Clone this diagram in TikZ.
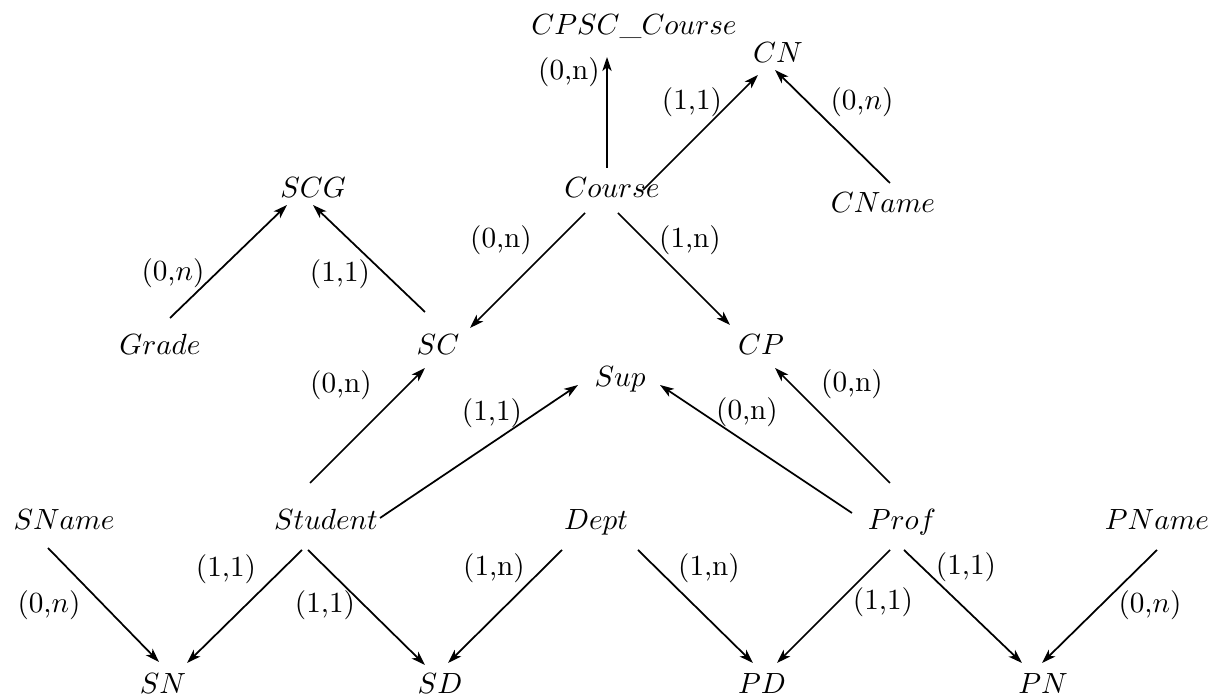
\documentclass[tikz,border=0pt]{standalone}
\usetikzlibrary{arrows.meta}
\begin{document}
\begin{tikzpicture}[x=0.3425pt, y=-0.3425pt,
  ent/.style={inner sep=0pt, anchor=base, font=\normalsize},
  card/.style={inner sep=0pt, anchor=center, font=\normalsize},
  arr/.style={line width=0.6pt, -{Stealth[length=4.8pt,width=3.2pt,inset=1.3pt]}}]
\useasboundingbox[fill=white] (0,0) rectangle (1227,700);

% entity and relation names
\node[ent] (CPSC)    at (634,35)   {$CPSC\_Course$};
\node[ent] (CN)      at (778,63)   {$CN$};
\node[ent] (Course)  at (612,198)  {$Course$};
\node[ent] (CName)   at (883,213)  {$CName$};
\node[ent] (SCG)     at (313,198)  {$SCG$};
\node[ent] (Grade)   at (160,355)  {$Grade$};
\node[ent] (SC)      at (438,355)  {$SC$};
\node[ent] (CP)      at (761,355)  {$CP$};
\node[ent] (Sup)     at (620,387)  {$Sup$};
\node[ent] (SName)   at (64,530)   {$SName$};
\node[ent] (Student) at (326,530)  {$Student$};
\node[ent] (Dept)    at (596,530)  {$Dept$};
\node[ent] (Prof)    at (902,530)  {$Prof$};
\node[ent] (PName)   at (1157,530) {$PName$};
\node[ent] (SN)      at (163,694)  {$SN$};
\node[ent] (SD)      at (440,694)  {$SD$};
\node[ent] (PD)      at (762,694)  {$PD$};
\node[ent] (PN)      at (1043,694) {$PN$};

% arrows, each offset from the base point of its two nodes
\draw[arr] ([shift={(-5,-30)}]Course.base)   -- ([shift={(-27,22)}]CPSC.base);
\draw[arr] ([shift={(31,-8)}]Course.base)    -- ([shift={(-20,12)}]CN.base);
\draw[arr] ([shift={(7,-30)}]CName.base)     -- ([shift={(-3,7)}]CN.base);
\draw[arr] ([shift={(-27,15)}]Course.base)   -- ([shift={(32,-27)}]SC.base);
\draw[arr] ([shift={(6,15)}]Course.base)     -- ([shift={(-31,-30)}]CP.base);
\draw[arr] ([shift={(10,-37)}]Grade.base)    -- ([shift={(-26,7)}]SCG.base);
\draw[arr] ([shift={(-13,-43)}]SC.base)      -- ([shift={(0,7)}]SCG.base);
\draw[arr] ([shift={(-16,-47)}]Student.base) -- ([shift={(-13,13)}]SC.base);
\draw[arr] ([shift={(54,-12)}]Student.base)  -- ([shift={(-42,-2)}]Sup.base);
\draw[arr] ([shift={(-50,-17)}]Prof.base)    -- ([shift={(40,-2)}]Sup.base);
\draw[arr] ([shift={(-12,-47)}]Prof.base)    -- ([shift={(14,13)}]CP.base);
\draw[arr] ([shift={(-16,18)}]SName.base)    -- ([shift={(-4,-32)}]SN.base);
\draw[arr] ([shift={(-24,20)}]Student.base)  -- ([shift={(24,-31)}]SN.base);
\draw[arr] ([shift={(-18,20)}]Student.base)  -- ([shift={(-15,-29)}]SD.base);
\draw[arr] ([shift={(-34,20)}]Dept.base)     -- ([shift={(8,-31)}]SD.base);
\draw[arr] ([shift={(42,20)}]Dept.base)      -- ([shift={(-9,-31)}]PD.base);
\draw[arr] ([shift={(-12,20)}]Prof.base)     -- ([shift={(15,-31)}]PD.base);
\draw[arr] ([shift={(2,20)}]Prof.base)       -- ([shift={(-21,-31)}]PN.base);
\draw[arr] ([shift={(0,20)}]PName.base)      -- ([shift={(-1,-31)}]PN.base);

% cardinalities
\node[card] (c1)  at (569,72)   {(0,n)};
\node[card] (c2)  at (692,102)  {(1,1)};
\node[card] (c3)  at (862,102)  {(0,$n$)};
\node[card] (c4)  at (501,240)  {(0,n)};
\node[card] (c5)  at (690,240)  {(1,n)};
\node[card] (c6)  at (173,273)  {(0,$n$)};
\node[card] (c7)  at (340,274)  {(1,1)};
\node[card] (c8)  at (341,385)  {(0,n)};
\node[card] (c9)  at (492,413)  {(1,1)};
\node[card] (c10) at (747,412)  {(0,n)};
\node[card] (c11) at (852,384)  {(0,n)};
\node[card] (c12) at (49,605)   {(0,$n$)};
\node[card] (c13) at (226,569)  {(1,1)};
\node[card] (c14) at (325,605)  {(1,1)};
\node[card] (c15) at (494,568)  {(1,n)};
\node[card] (c16) at (709,568)  {(1,n)};
\node[card] (c17) at (883,602)  {(1,1)};
\node[card] (c18) at (966,567)  {(1,1)};
\node[card] (c19) at (1150,605) {(0,$n$)};
\end{tikzpicture}
\end{document}
